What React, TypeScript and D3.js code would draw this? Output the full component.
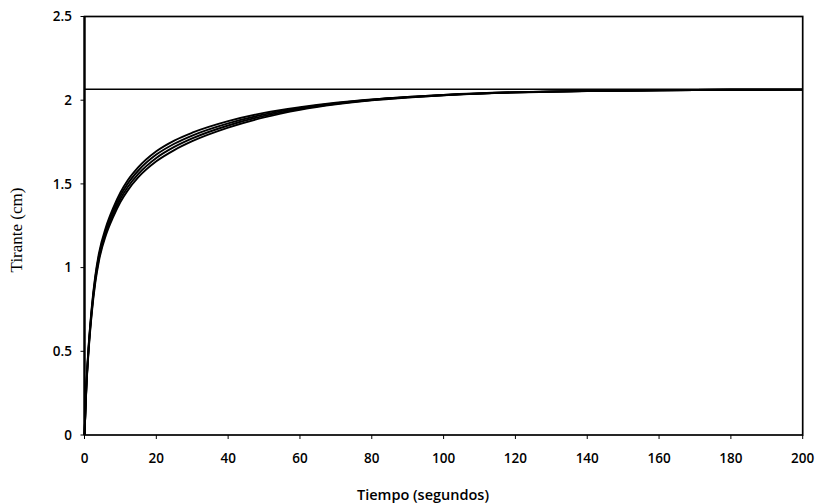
import React from "react";
import * as d3 from "d3";

const times = [0, 0.5, 1, 2, 3, 4, 6, 8, 10, 12, 15, 20, 25, 30, 40, 50, 60, 70, 80, 90, 100, 120, 140, 160, 180, 200];
const curve1 = [0, 0.289, 0.484, 0.758, 0.951, 1.083, 1.244, 1.357, 1.449, 1.52, 1.60, 1.695, 1.759, 1.806, 1.875, 1.924, 1.958, 1.985, 2.005, 2.020, 2.032, 2.048, 2.055, 2.059, 2.062, 2.063];
const curve2 = [0, 0.283, 0.475, 0.746, 0.937, 1.068, 1.228, 1.339, 1.430, 1.50, 1.58, 1.675, 1.740, 1.789, 1.862, 1.915, 1.953, 1.982, 2.003, 2.019, 2.031, 2.047, 2.055, 2.059, 2.062, 2.063];
const curve3 = [0, 0.277, 0.466, 0.734, 0.923, 1.053, 1.212, 1.321, 1.411, 1.48, 1.56, 1.655, 1.721, 1.772, 1.849, 1.906, 1.947, 1.978, 2.001, 2.017, 2.030, 2.047, 2.055, 2.059, 2.062, 2.063];
const curve4 = [0, 0.271, 0.457, 0.722, 0.909, 1.038, 1.196, 1.303, 1.392, 1.46, 1.54, 1.635, 1.702, 1.755, 1.836, 1.897, 1.942, 1.975, 1.999, 2.016, 2.030, 2.046, 2.055, 2.059, 2.062, 2.063];
const equilibrium = 2.065;
const xTicks = [0, 20, 40, 60, 80, 100, 120, 140, 160, 180, 200];
const yTicks = [0, 0.5, 1, 1.5, 2, 2.5];
const yTickLabels = ["0", "0.5", "1", "1.5", "2", "2.5"];

const W = 819, H = 504;
const left = 84.5, right = 802.7, top = 16.5, bottom = 435;
const tickFont = "'Open Sans', sans-serif";

export default function App() {
  const x = d3.scaleLinear().domain([0, 200]).range([left, right]);
  const y = d3.scaleLinear().domain([0, 2.5]).range([bottom, top]);
  const line = d3
    .line<number>()
    .x((_, i) => x(times[i]))
    .y((d) => y(d))
    .curve(d3.curveMonotoneX);
  const series = [curve1, curve2, curve3, curve4];

  return (
    <svg
      width={W}
      height={H}
      style={{ position: "absolute", left: 0, top: 0, background: "#fff" }}
    >
      <rect x={0} y={0} width={W} height={H} fill="#fff" />
      {series.map((s, i) => (
        <path key={i} d={line(s) || ""} fill="none" stroke="#000" strokeWidth={1.9} />
      ))}
      <line x1={left} x2={right} y1={y(equilibrium)} y2={y(equilibrium)} stroke="#000" strokeWidth={1.6} />
      <rect x={left} y={top} width={right - left} height={bottom - top} fill="none" stroke="#000" strokeWidth={1.7} />
      <line x1={left} x2={left} y1={top} y2={bottom} stroke="#000" strokeWidth={2.2} />
      {yTicks.map((t, i) => (
        <g key={"y" + i}>
          <line x1={left - 4} x2={left} y1={y(t)} y2={y(t)} stroke="#000" strokeWidth={1} />
          <text
            x={72}
            y={y(t)}
            dy="0.35em"
            textAnchor="end"
            fontFamily={tickFont}
            fontWeight={600}
            fontSize={13.5}
            fill="#000"
          >
            {yTickLabels[i]}
          </text>
        </g>
      ))}
      {xTicks.map((t, i) => (
        <g key={"x" + i}>
          <line x1={x(t)} x2={x(t)} y1={bottom} y2={bottom + 4} stroke="#000" strokeWidth={1} />
          <text
            x={x(t)}
            y={462.5}
            textAnchor="middle"
            fontFamily={tickFont}
            fontWeight={600}
            fontSize={13.5}
            fill="#000"
          >
            {t}
          </text>
        </g>
      ))}
      <text
        x={423}
        y={500}
        textAnchor="middle"
        fontFamily={tickFont}
        fontWeight={600}
        fontSize={14.5}
        fill="#000"
      >
        Tiempo (segundos)
      </text>
      <text
        transform={`translate(22, 230) rotate(-90)`}
        textAnchor="middle"
        fontFamily="'Liberation Serif', serif"
        fontSize={17}
        fill="#000"
      >
        Tirante (cm)
      </text>
    </svg>
  );
}
